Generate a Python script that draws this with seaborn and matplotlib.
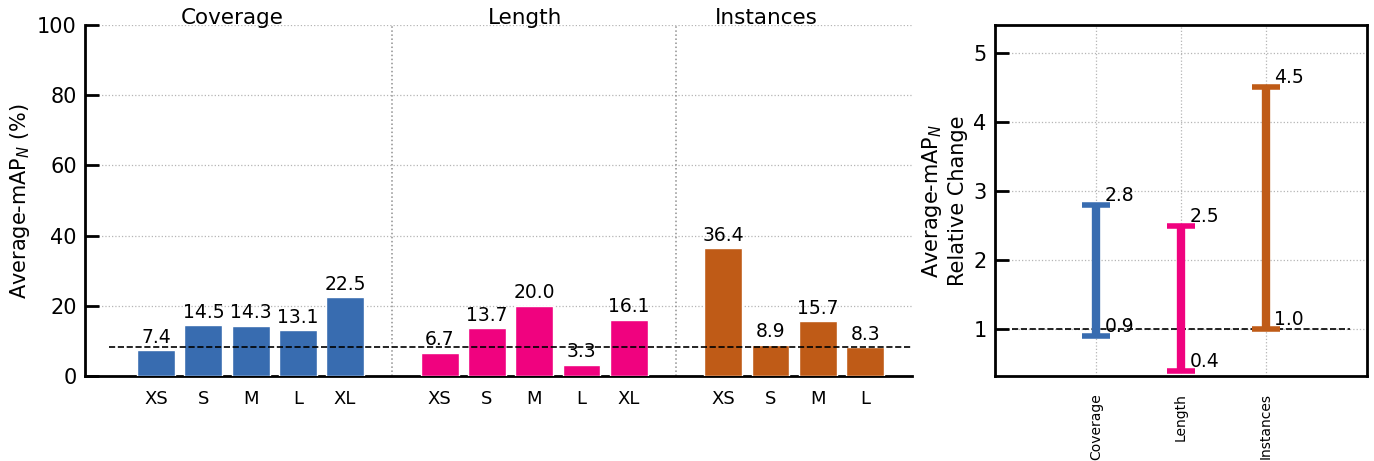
import pandas as pd
import matplotlib
matplotlib.use("Agg")
import matplotlib.pyplot as plt
import seaborn as sns

# data
groups = ["Coverage", "Length", "Instances"]
coverage_labels = ["XS", "S", "M", "L", "XL"]
coverage_vals = [7.4, 14.5, 14.3, 13.1, 22.5]
length_labels = ["XS", "S", "M", "L", "XL"]
length_vals = [6.7, 13.7, 20.0, 3.3, 16.1]
instances_labels = ["XS", "S", "M", "L"]
instances_vals = [36.4, 8.9, 15.7, 8.3]
baseline = 8.2
rel_min = [0.9, 0.4, 1.0]
rel_max = [2.8, 2.5, 4.5]

colors = ["#386cb0", "#f0027f", "#bf5b17"]

# build a long table with gaps of one slot between groups
rows = []
start = 0
for g, labs, vals in zip(groups, [coverage_labels, length_labels, instances_labels],
                         [coverage_vals, length_vals, instances_vals]):
    for i, (lab, v) in enumerate(zip(labs, vals)):
        rows.append({"pos": start + i, "size": lab, "value": v, "group": g})
    start += len(labs) + 1
df = pd.DataFrame(rows)

sns.set_theme(style="white")
plt.rcParams["font.family"] = ["DejaVu Sans"]
plt.rcParams["mathtext.fontset"] = "dejavusans"
for k in ["text.color", "axes.labelcolor", "xtick.color", "ytick.color"]:
    plt.rcParams[k] = "black"

fig = plt.figure(figsize=(13.74, 4.61), dpi=100)
ax1 = fig.add_axes([0.062, 0.184, 0.602, 0.762])
ax2 = fig.add_axes([0.724, 0.184, 0.271, 0.762])

grid_kw = dict(linestyle=":", color="#b5b5b5", linewidth=0.9)

#~~~~~~~~~~~~~~~~~~~~~ left: bars per group ~~~~~~~~~~~~~~~~~~~~~#
sns.barplot(data=df, x="pos", y="value", hue="group", palette=colors,
            hue_order=groups, native_scale=True, dodge=False, width=0.8,
            saturation=1, legend=False, ax=ax1, zorder=3)
for c in ax1.containers:
    ax1.bar_label(c, fmt="%.1f", padding=2.5, fontsize=13.5, zorder=5)

ax1.set_xlim(-1.5, 16)
ax1.set_ylim(0, 100)
ax1.set_xticks(df["pos"])
ax1.set_xticklabels(df["size"], fontsize=13)
ax1.set_yticks([0, 20, 40, 60, 80, 100])
ax1.tick_params(axis="y", left=True, direction="in", length=10, width=2, labelsize=15, pad=6)
ax1.tick_params(axis="x", length=0, pad=10)
ax1.set_xlabel("")
ax1.set_ylabel("Average-mAP$_N$ (%)", fontsize=15)
ax1.yaxis.grid(True, **grid_kw)
ax1.set_axisbelow(True)
for s in ["top", "right"]:
    ax1.spines[s].set_visible(False)
for s in ["left", "bottom"]:
    ax1.spines[s].set_linewidth(2)
    ax1.spines[s].set_color("black")

# group separators and baseline
ax1.axvline(5, color="#8f8f8f", linestyle=":", linewidth=1.1, zorder=1)
ax1.axvline(11, color="#8f8f8f", linestyle=":", linewidth=1.1, zorder=1)
ax1.hlines(baseline, -1, 16, colors="black", linestyles="--", linewidth=1.2, zorder=4)

title_x = [1.6, 7.8, 12.9]
for x, g in zip(title_x, groups):
    ax1.text(x, 102, g, ha="center", va="center", fontsize=15.5, clip_on=False)

#~~~~~~~~~~~~~~~~~~~~~ right: relative change ranges ~~~~~~~~~~~~~~~~~~~~~#
for i, (lo, hi, col) in enumerate(zip(rel_min, rel_max, colors)):
    mid = (lo + hi) / 2
    ax2.errorbar(i, mid, yerr=(hi - lo) / 2, fmt="none", ecolor=col,
                 elinewidth=6, capsize=10, capthick=4, zorder=3)
    ax2.text(i + 0.1, hi, f"{hi:.1f}", ha="left", va="bottom", fontsize=13.5, zorder=4)
    ax2.text(i + 0.1, lo, f"{lo:.1f}", ha="left", va="bottom", fontsize=13.5, zorder=4)

ax2.hlines(1.0, -1, 3, colors="black", linestyles="--", linewidth=1.2, zorder=2)
ax2.set_xlim(-1.2, 3.2)
ax2.set_ylim(0.325, 5.4)
ax2.set_xticks(range(len(groups)))
ax2.set_xticklabels(groups, rotation=90, fontsize=10)
ax2.set_yticks([1, 2, 3, 4, 5])
ax2.tick_params(axis="y", left=True, direction="in", length=10, width=2, labelsize=15, pad=6)
ax2.tick_params(axis="x", length=0, pad=12)
ax2.set_ylabel("Average-mAP$_N$\nRelative Change", fontsize=15)
ax2.grid(True, **grid_kw)
ax2.set_axisbelow(True)
for s in ax2.spines.values():
    s.set_linewidth(2)
    s.set_color("black")

plt.savefig("out.png", dpi=100)
